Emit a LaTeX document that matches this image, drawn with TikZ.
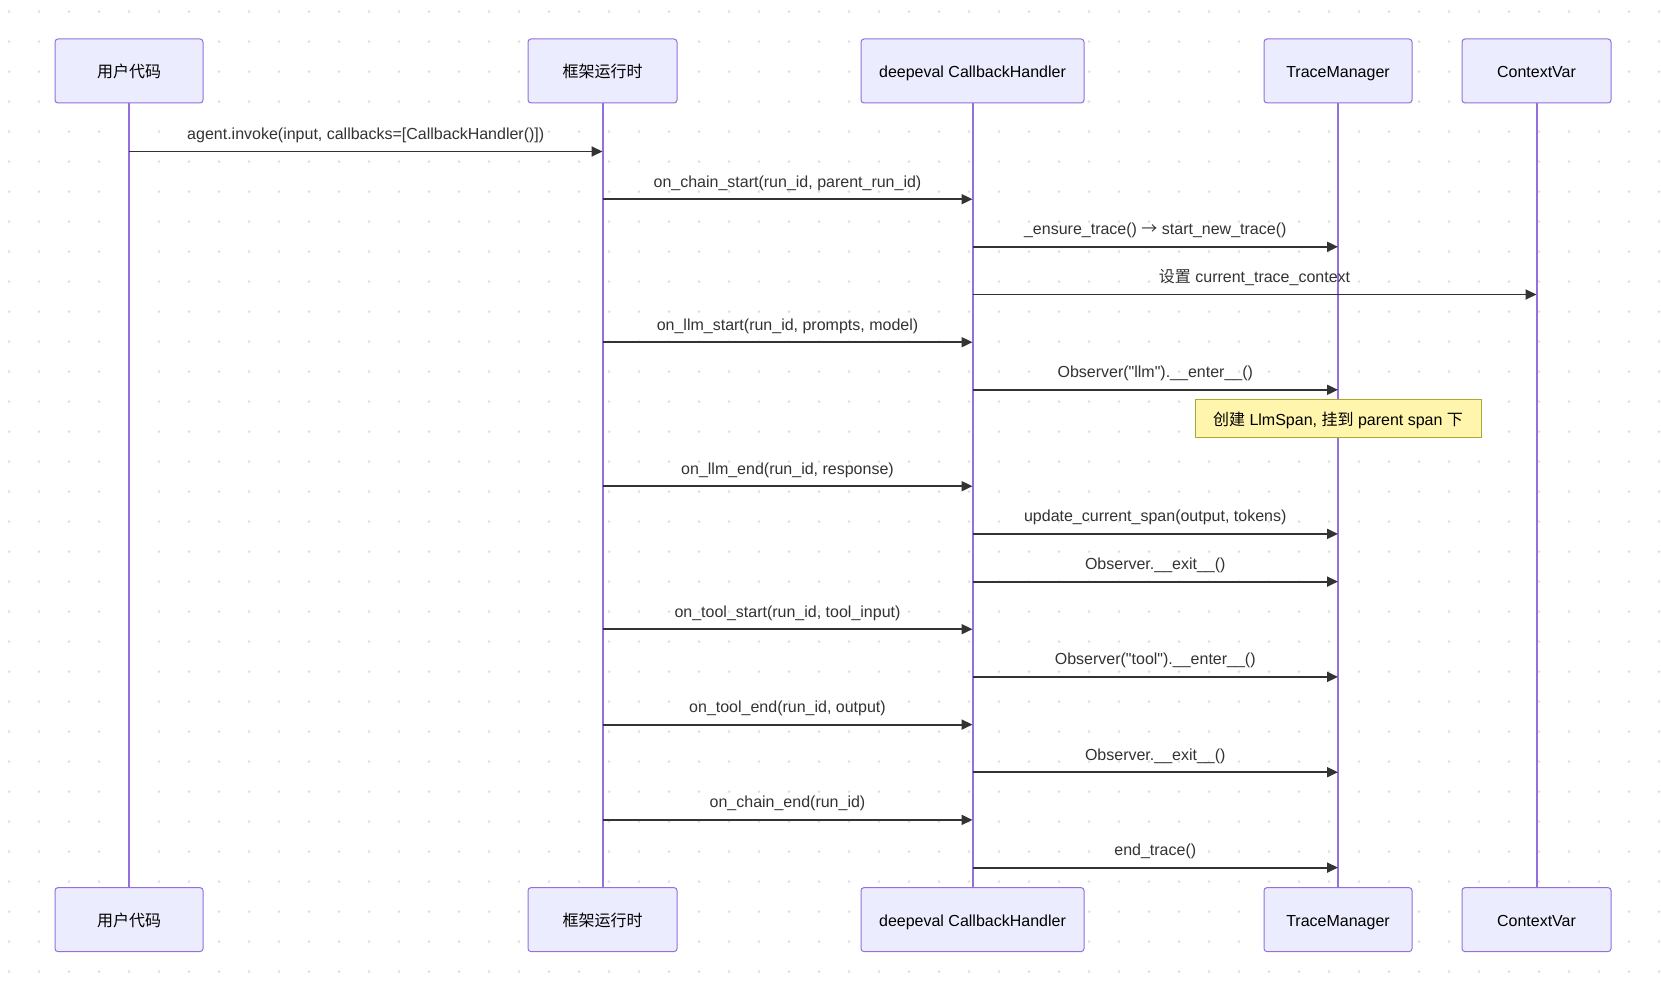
\documentclass[tikz,border=0pt]{standalone}
\usepackage{fontspec}
\newfontfamily\lib{Liberation Sans}
\newfontfamily\cjk{Noto Sans CJK SC}
\usetikzlibrary{arrows.meta}
\definecolor{actorfill}{HTML}{ECECFF}
\definecolor{actorline}{HTML}{9370DB}
\definecolor{notefill}{HTML}{FFF5AD}
\definecolor{noteline}{HTML}{AAAA33}
\definecolor{msgcol}{HTML}{333333}
\definecolor{dotcol}{HTML}{E0E0E0}
\tikzset{
  actor/.style={draw=actorline, fill=actorfill, line width=1pt, rounded corners=3pt,
    minimum height=64pt, inner sep=0pt, text height=14pt, text depth=0pt,
    font=\lib\fontsize{16}{19}\selectfont, text=black},
  lifeline/.style={draw=actorline, line width=2pt},
  msgarrow/.style={draw=msgcol, line width=1.8pt, -{Triangle[length=11pt,width=10pt]}},
  msglabel/.style={anchor=base, yshift=12pt, inner sep=0pt, text=msgcol, font=\lib\fontsize{16}{19}\selectfont},
  notebox/.style={draw=noteline, fill=notefill, line width=1pt, minimum width=286pt, minimum height=38.5pt,
    inner sep=0pt, text height=13pt, text depth=0pt, font=\lib\fontsize{16}{19}\selectfont, text=black}
}
\newcommand\msgline[4]{\draw[msgarrow] (#1 |- 0,#3) -- node[msglabel]{#4} (#2 |- 0,#3);}
\begin{document}
\begin{tikzpicture}[x=1pt,y=-1pt]
\useasboundingbox (0,0) rectangle (1661,984);
\fill[white] (0,0) rectangle (1661,984);
\foreach \i in {0,...,55} {\foreach \j in {0,...,32} {
  \fill[dotcol] (9+30*\i, 11.7+30*\j) circle (1.5pt);
}}
% top actors
\node[actor, minimum width=148pt] (uT) at (129,71) {\cjk 用户代码};
\node[actor, minimum width=149pt] (fT) at (602.5,71) {\cjk 框架运行时};
\node[actor, minimum width=223pt] (cT) at (972.5,71) {deepeval CallbackHandler};
\node[actor, minimum width=148pt] (tT) at (1338,71) {TraceManager};
\node[actor, minimum width=149pt] (vT) at (1536.5,71) {ContextVar};
% bottom actors
\node[actor, minimum width=148pt] (uB) at (129,919.6) {\cjk 用户代码};
\node[actor, minimum width=149pt] (fB) at (602.5,919.6) {\cjk 框架运行时};
\node[actor, minimum width=223pt] (cB) at (972.5,919.6) {deepeval CallbackHandler};
\node[actor, minimum width=148pt] (tB) at (1338,919.6) {TraceManager};
\node[actor, minimum width=149pt] (vB) at (1536.5,919.6) {ContextVar};
% lifelines
\draw[lifeline] (uT.south) -- (uB.north);
\draw[lifeline] (fT.south) -- (fB.north);
\draw[lifeline] (cT.south) -- (cB.north);
\draw[lifeline] (tT.south) -- (tB.north);
\draw[lifeline] (vT.south) -- (vB.north);
% messages
\msgline{uT}{fT}{151.5}{agent.invoke(input, callbacks=[CallbackHandler()])}
\msgline{fT}{cT}{199.2}{on\_chain\_start(run\_id, parent\_run\_id)}
\msgline{cT}{tT}{246.8}{\_ensure\_trace() {\cjk →} start\_new\_trace()}
\msgline{cT}{vT}{294.5}{{\cjk 设置} current\_trace\_context}
\msgline{fT}{cT}{342.2}{on\_llm\_start(run\_id, prompts, model)}
\msgline{cT}{tT}{389.8}{Observer("llm").\_\_enter\_\_()}
\node[notebox] (note) at (1338,418.5) {{\cjk 创建} LlmSpan, {\cjk 挂到} parent span {\cjk 下}};
\msgline{fT}{cT}{486.2}{on\_llm\_end(run\_id, response)}
\msgline{cT}{tT}{533.9}{update\_current\_span(output, tokens)}
\msgline{cT}{tT}{581.6}{Observer.\_\_exit\_\_()}
\msgline{fT}{cT}{629.2}{on\_tool\_start(run\_id, tool\_input)}
\msgline{cT}{tT}{676.9}{Observer("tool").\_\_enter\_\_()}
\msgline{fT}{cT}{724.6}{on\_tool\_end(run\_id, output)}
\msgline{cT}{tT}{772.2}{Observer.\_\_exit\_\_()}
\msgline{fT}{cT}{819.9}{on\_chain\_end(run\_id)}
\msgline{cT}{tT}{867.6}{end\_trace()}
\end{tikzpicture}
\end{document}
